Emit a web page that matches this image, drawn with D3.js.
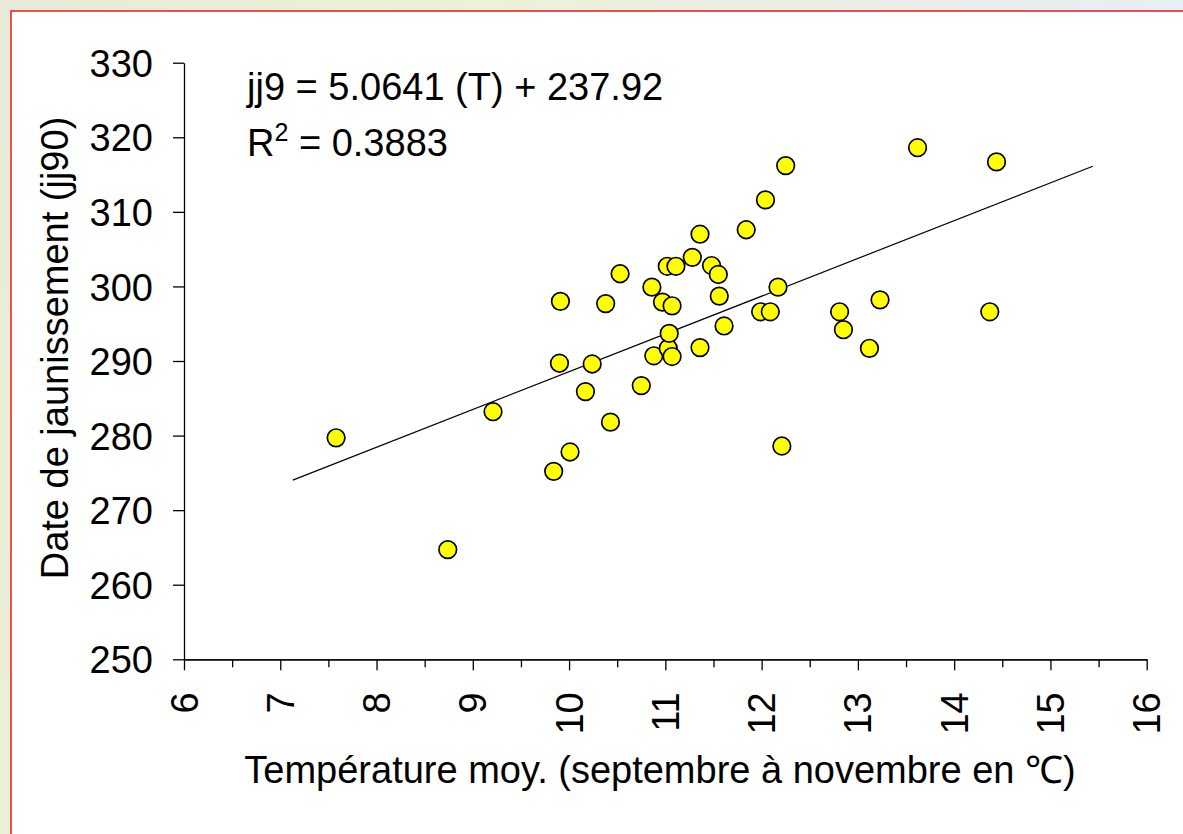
<!DOCTYPE html>
<html>
<head>
<meta charset="utf-8">
<script src="https://cdn.jsdelivr.net/npm/d3@7"></script>
<style>
    body { margin: 0; overflow: hidden; }
    svg { display: block; }
</style>
</head>
<body>
<script>
// donnees
const temperature = [7.58, 8.74, 9.21, 9.84, 9.90, 9.91, 10.01, 10.17, 10.24, 10.38, 10.43,
    10.53, 10.75, 10.86, 10.88, 10.97, 11.02, 11.03, 11.04, 11.07, 11.07, 11.11, 11.28,
    11.36, 11.36, 11.48, 11.55, 11.56, 11.61, 11.84, 11.99, 12.04, 12.09, 12.17, 12.21,
    12.25, 12.81, 12.85, 13.12, 13.23, 13.62, 14.37, 14.44];
const jaunissement = [279.7, 264.7, 283.2, 275.2, 289.7, 298.0, 277.8, 285.9, 289.6, 297.7, 281.8,
    301.7, 286.7, 299.9, 290.7, 297.9, 302.7, 291.7, 293.7, 297.4, 290.6, 302.7, 303.9,
    307.0, 291.8, 302.8, 301.6, 298.7, 294.7, 307.6, 296.6, 311.6, 296.6, 299.9, 278.6,
    316.2, 296.6, 294.2, 291.7, 298.2, 318.6, 296.6, 316.7];

const xTicks = [6, 7, 8, 9, 10, 11, 12, 13, 14, 15, 16];
const xMinorTicks = [6.5, 7.5, 8.5, 9.5, 10.5, 11.5, 12.5, 13.5, 14.5, 15.5];
const yTicks = [250, 260, 270, 280, 290, 300, 310, 320, 330];

// droite de tendance
const pente = 5.0641;
const origine = 237.92;
const tendanceX = [7.13, 15.44];

const equation = "jj9 = 5.0641 (T) + 237.92";
const r2Texte = " = 0.3883";
const titreX = "Température moy. (septembre à novembre en ℃)";
const titreY = "Date de jaunissement (jj90)";

const width = 1183;
const height = 834;
const police = "'Liberation Sans', Arial, sans-serif";

const svg = d3.select("body")
    .append("svg")
    .attr("width", width)
    .attr("height", height)
    .style("font-family", police);

// fond flou (photo)
const grad = svg.append("defs")
    .append("linearGradient")
    .attr("id", "fond")
    .attr("x1", 0).attr("x2", 1)
    .attr("y1", 0).attr("y2", 0.3);
grad.append("stop").attr("offset", "0%").attr("stop-color", "#e7ead9");
grad.append("stop").attr("offset", "35%").attr("stop-color", "#eef0d6");
grad.append("stop").attr("offset", "70%").attr("stop-color", "#e9eee8");
grad.append("stop").attr("offset", "100%").attr("stop-color", "#e6eefa");

svg.append("rect")
    .attr("width", width)
    .attr("height", height)
    .attr("fill", "url(#fond)");

svg.append("rect")
    .attr("x", 11)
    .attr("y", 11)
    .attr("width", width + 20)
    .attr("height", height + 20)
    .attr("fill", "#ffffff")
    .attr("stroke", "#e8262a")
    .attr("stroke-width", 1.6);

const x = d3.scaleLinear().domain([6, 16]).range([184, 1146.7]);
const y = d3.scaleLinear().domain([250, 330]).range([659.3, 62.7]);

// axe Y
const axeY = svg.append("g")
    .attr("transform", "translate(" + x(6) + ",0)")
    .call(d3.axisLeft(y)
        .tickValues(yTicks)
        .tickSize(11)
        .tickSizeOuter(0)
        .tickPadding(20)
        .tickFormat(d3.format("d")));

// axe X, graduations mineures
svg.append("g")
    .attr("transform", "translate(0," + y(250) + ")")
    .call(d3.axisBottom(x)
        .tickValues(xMinorTicks)
        .tickSize(8)
        .tickSizeOuter(0)
        .tickFormat(""));

const axeX = svg.append("g")
    .attr("transform", "translate(0," + y(250) + ")")
    .call(d3.axisBottom(x)
        .tickValues(xTicks)
        .tickSize(11)
        .tickSizeOuter(0)
        .tickFormat(d3.format("d")));

svg.selectAll(".domain, .tick line")
    .attr("stroke", "#000")
    .attr("stroke-width", 1.3);

axeY.selectAll("text")
    .attr("fill", "#000")
    .attr("dy", "0.36em")
    .style("font-family", police)
    .style("font-size", "38px");

axeX.selectAll("text")
    .attr("fill", "#000")
    .attr("y", 0)
    .attr("dy", 0)
    .attr("text-anchor", "end")
    .attr("transform", "translate(13,33) rotate(-90)")
    .style("font-family", police)
    .style("font-size", "38px");

// titres des axes
svg.append("text")
    .attr("x", 660)
    .attr("y", 783)
    .attr("text-anchor", "middle")
    .style("font-size", "38px")
    .text(titreX);

svg.append("text")
    .attr("transform", "translate(68,348) rotate(-90)")
    .attr("text-anchor", "middle")
    .style("font-size", "38px")
    .text(titreY);

// droite de regression
svg.append("line")
    .attr("x1", x(tendanceX[0]))
    .attr("y1", y(pente * tendanceX[0] + origine))
    .attr("x2", x(tendanceX[1]))
    .attr("y2", y(pente * tendanceX[1] + origine))
    .attr("stroke", "#000")
    .attr("stroke-width", 1.2);

// points
svg.append("g")
    .selectAll("circle")
    .data(temperature)
    .enter()
    .append("circle")
    .attr("cx", d => x(d))
    .attr("cy", (d, i) => y(jaunissement[i]))
    .attr("r", 8.8)
    .attr("fill", "#ffff00")
    .attr("stroke", "#000")
    .attr("stroke-width", 1.7);

// equation
svg.append("text")
    .attr("x", 247)
    .attr("y", 100)
    .style("font-size", "38px")
    .text(equation);

const r2 = svg.append("text")
    .attr("x", 247)
    .attr("y", 156)
    .style("font-size", "38px");
r2.append("tspan").text("R");
r2.append("tspan")
    .attr("dy", -15)
    .style("font-size", "25px")
    .text("2");
r2.append("tspan")
    .attr("dy", 15)
    .text(r2Texte);
</script>
</body>
</html>
